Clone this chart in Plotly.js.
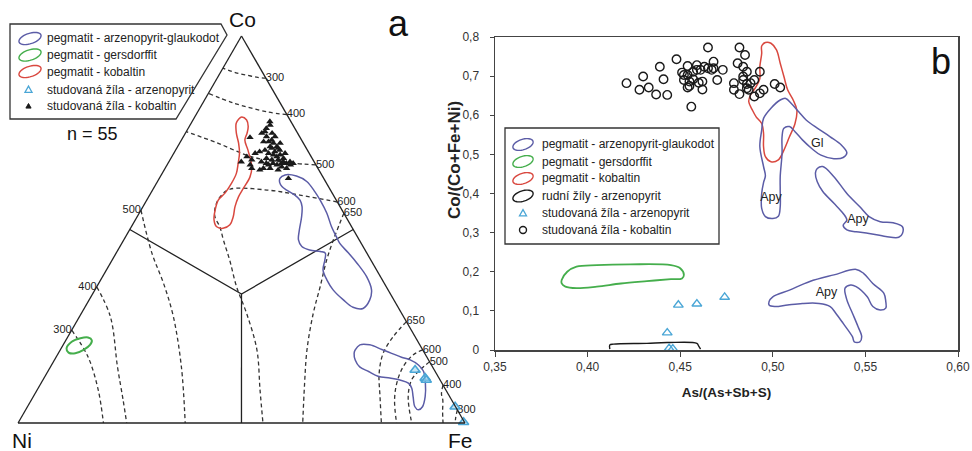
<!DOCTYPE html>
<html><head><meta charset="utf-8">
<script src="https://cdn.plot.ly/plotly-3.0.1.min.js"></script>
<style>body{margin:0;background:#fff}</style>
</head><body>
<div id="chart" style="width:972px;height:451px"></div>
<script>
// ================= DATA =================
// ---- Panel a (ternary, mole fractions Co / Fe, Ni = 1 - Co - Fe) ----
const aKobCo = [0.779,0.738,0.749,0.753,0.740,0.727,0.731,0.723,0.714,0.714,0.727,0.705,0.701,0.693,0.684,0.680,0.680,0.684,0.675,0.658,0.658,0.667,0.671,0.671,0.667,0.671,0.658,0.662,0.671,0.671,0.697,0.680,0.688,0.675,0.667,0.658,0.632,0.701,0.697,0.705,0.693,0.688,0.723,0.740,0.749,0.761,0.770,0.710,0.697,0.710,0.667,0.654,0.654,0.675,0.675];
const aKobFe = [0.174,0.150,0.171,0.176,0.186,0.197,0.202,0.210,0.222,0.207,0.186,0.233,0.224,0.240,0.252,0.242,0.228,0.214,0.207,0.220,0.235,0.246,0.254,0.265,0.276,0.280,0.272,0.259,0.235,0.220,0.182,0.183,0.168,0.162,0.186,0.194,0.289,0.190,0.212,0.200,0.225,0.235,0.225,0.205,0.194,0.175,0.179,0.227,0.249,0.213,0.227,0.214,0.255,0.256,0.271];
const aApyCo = [0.137,0.116,0.111,0.042,0.002];
const aApyFe = [0.820,0.853,0.858,0.957,0.996];

const aKobPolyCo = [0.791,0.783,0.766,0.749,0.731,0.705,0.662,0.636,0.606,0.585,0.559,0.533,0.512,0.503,0.507,0.525,0.550,0.576,0.594,0.619,0.645,0.671,0.697,0.723,0.749,0.774,0.785,0.791];
const aKobPolyFe = [0.105,0.120,0.132,0.138,0.142,0.162,0.192,0.201,0.201,0.201,0.206,0.215,0.218,0.207,0.191,0.176,0.166,0.160,0.166,0.168,0.166,0.157,0.147,0.132,0.114,0.101,0.101,0.105];
const aGlauk1Co = [0.632,0.641,0.638,0.624,0.598,0.576,0.542,0.507,0.481,0.464,0.439,0.413,0.378,0.344,0.318,0.296,0.299,0.318,0.344,0.370,0.395,0.421,0.439,0.443,0.447,0.456,0.473,0.499,0.533,0.559,0.576,0.589,0.602,0.611,0.621,0.632];
const aGlauk1Fe = [0.270,0.277,0.304,0.334,0.365,0.388,0.420,0.448,0.472,0.488,0.520,0.552,0.591,0.619,0.628,0.624,0.600,0.569,0.533,0.506,0.485,0.476,0.468,0.455,0.429,0.407,0.391,0.380,0.368,0.356,0.343,0.325,0.300,0.285,0.275,0.270];
const aGlauk2Co = [0.189,0.202,0.202,0.190,0.180,0.170,0.163,0.150,0.133,0.103,0.068,0.042,0.034,0.042,0.068,0.090,0.103,0.111,0.116,0.121,0.133,0.145,0.163,0.180,0.189];
const aGlauk2Fe = [0.660,0.664,0.686,0.719,0.746,0.773,0.796,0.821,0.841,0.860,0.877,0.884,0.879,0.867,0.850,0.836,0.822,0.799,0.774,0.745,0.718,0.692,0.673,0.662,0.660];
const aGersCo = [0.193,0.210,0.219,0.221,0.214,0.202,0.189,0.180,0.182,0.193];
const aGersFe = [0.012,0.015,0.030,0.046,0.058,0.060,0.052,0.038,0.022,0.012];

// field boundaries (solid Y)
const aFieldCo = [0.5, 1/3, 0.5, null, 1/3, 0];
const aFieldFe = [0, 1/3, 0.5, null, 1/3, 0.5];

// isotherms (°C) – dashed
const isoLabels = ['300','400','500','600','650','500','400','300','650','600','500','400','300'];
const isoCo = [
  [0.891,0.893,0.899,0.905,0.917],
  [0.797,0.804,0.827,0.852],
  [0.667,0.672,0.687,0.724,0.753],
  [0.571,0.589,0.602,0.604,0.585,0.559,0.533,0.507,0.473,0.421,0.352,0.283,0.189,0.085,0],
  [0.542,0.516,0.473,0.421,0.352,0.283,0.189,0.098,0],
  [0.550,0.439,0.361,0.275,0.145,0],
  [0.352,0.275,0.145,0.060,0],
  [0.240,0.171,0.085,0],
  [0.262,0.223,0.180,0.128,0.068,0],
  [0.189,0.176,0.145,0.103,0.059,0],
  [0.158,0.135,0.111,0.068,0],
  [0.098,0.075,0.059,0.030,0],
  [0.034,0.015,0]
];
const isoFe = [
  [0.109,0.090,0.062,0.035,0],
  [0.203,0.155,0.068,0],
  [0.333,0.273,0.182,0.083,0],
  [0.429,0.336,0.256,0.172,0.160,0.162,0.174,0.198,0.223,0.263,0.313,0.370,0.440,0.499,0.548],
  [0.458,0.462,0.469,0.480,0.500,0.519,0.552,0.592,0.637],
  [0,0.080,0.145,0.210,0.293,0.374],
  [0,0.069,0.150,0.205,0.243],
  [0,0.071,0.137,0.191],
  [0.738,0.728,0.727,0.744,0.776,0.813],
  [0.811,0.796,0.789,0.796,0.813,0.847],
  [0.842,0.830,0.825,0.839,0.881],
  [0.902,0.910,0.921,0.935,0.951],
  [0.966,0.972,0.978]
];
const isoLabelSide = ['middle right','middle right','middle right','middle right','middle right','middle left','middle left','middle left','middle right','middle right','middle right','middle right','middle right'];

// ---- Panel b (As/(As+Sb+S) vs Co/(Co+Fe+Ni)) ----
const bKobX = [0.421,0.430,0.428,0.433,0.437,0.443,0.441,0.439,0.448,0.451,0.452,0.454,0.457,0.459,0.461,0.462,0.462,0.456,0.455,0.454,0.459,0.465,0.465,0.468,0.470,0.473,0.479,0.479,0.482,0.485,0.481,0.484,0.482,0.484,0.486,0.486,0.488,0.490,0.493,0.490,0.493,0.495,0.501,0.504,0.467,0.455,0.452,0.460,0.468,0.486,0.484,0.457,0.463,0.454,0.487];
const bKobY = [0.682,0.699,0.665,0.671,0.653,0.652,0.692,0.724,0.743,0.709,0.703,0.726,0.692,0.728,0.716,0.686,0.666,0.622,0.675,0.671,0.716,0.720,0.773,0.737,0.690,0.716,0.682,0.665,0.773,0.754,0.733,0.724,0.654,0.690,0.680,0.669,0.682,0.690,0.711,0.648,0.656,0.665,0.680,0.671,0.716,0.686,0.690,0.683,0.720,0.711,0.699,0.711,0.724,0.703,0.665];
const bApyX = [0.449,0.459,0.474,0.443,0.444,0.446];
const bApyY = [0.115,0.118,0.135,0.044,0.004,0.003];

const bKobPolyX = [0.496,0.499,0.502,0.504,0.506,0.508,0.511,0.513,0.512,0.509,0.506,0.503,0.499,0.496,0.495,0.495,0.494,0.491,0.489,0.487,0.488,0.491,0.493,0.493,0.494,0.494,0.496];
const bKobPolyY = [0.786,0.784,0.767,0.733,0.699,0.665,0.639,0.613,0.579,0.545,0.511,0.486,0.481,0.494,0.520,0.554,0.579,0.596,0.613,0.635,0.652,0.673,0.694,0.724,0.758,0.777,0.786];
const bGlX = [0.507,0.510,0.514,0.518,0.524,0.531,0.537,0.540,0.538,0.533,0.526,0.521,0.516,0.512,0.509,0.506,0.505,0.505,0.504,0.504,0.504,0.503,0.500,0.496,0.494,0.494,0.495,0.496,0.495,0.493,0.494,0.495,0.499,0.504,0.507];
const bGlY = [0.643,0.630,0.609,0.588,0.567,0.545,0.524,0.504,0.492,0.489,0.498,0.515,0.537,0.558,0.571,0.567,0.545,0.503,0.443,0.409,0.366,0.342,0.336,0.341,0.362,0.400,0.428,0.445,0.469,0.520,0.562,0.592,0.618,0.639,0.643];
const bApy2X = [0.524,0.527,0.533,0.540,0.547,0.552,0.558,0.565,0.570,0.570,0.568,0.561,0.552,0.545,0.540,0.538,0.540,0.538,0.533,0.527,0.524,0.523,0.524];
const bApy2Y = [0.464,0.469,0.443,0.400,0.366,0.341,0.328,0.325,0.315,0.298,0.288,0.290,0.298,0.302,0.307,0.319,0.332,0.349,0.375,0.405,0.430,0.452,0.464];
const bApy3X = [0.498,0.500,0.509,0.520,0.533,0.545,0.549,0.554,0.560,0.561,0.561,0.558,0.554,0.551,0.545,0.542,0.539,0.540,0.543,0.546,0.548,0.547,0.544,0.543,0.538,0.534,0.531,0.525,0.516,0.508,0.501,0.498,0.498];
const bApy3Y = [0.124,0.136,0.153,0.175,0.192,0.206,0.196,0.170,0.145,0.124,0.107,0.102,0.111,0.136,0.162,0.166,0.158,0.128,0.094,0.060,0.034,0.021,0.021,0.034,0.068,0.094,0.111,0.119,0.119,0.115,0.111,0.115,0.124];
const bGersX = [0.386,0.389,0.394,0.405,0.423,0.445,0.450,0.452,0.451,0.445,0.432,0.418,0.405,0.394,0.388,0.386,0.386];
const bGersY = [0.179,0.200,0.213,0.217,0.219,0.217,0.209,0.192,0.183,0.181,0.176,0.170,0.162,0.158,0.162,0.170,0.179];
const bRudX = [0.412,0.412,0.414,0.432,0.443,0.459,0.460,0.461];
const bRudY = [0.002,0.013,0.015,0.017,0.019,0.017,0.010,0.002];
const bFieldLabX = [0.524,0.499,0.546,0.529];
const bFieldLabY = [0.528,0.390,0.332,0.145];
const bFieldLabT = ['Gl','Apy','Apy','Apy'];

const legendA = ['pegmatit - arzenopyrit-glaukodot','pegmatit - gersdorffit','pegmatit - kobaltin','studovaná žíla - arzenopyrit','studovaná žíla - kobaltin'];
const legendB = ['pegmatit - arzenopyrit-glaukodot','pegmatit - gersdorffit','pegmatit - kobaltin','rudní žíly - arzenopyrit','studovaná žíla - arzenopyrit','studovaná žíla - kobaltin'];

// ================= STYLE =================
const F = 'Arial, "Liberation Sans", sans-serif';
const C_BLUE = '#5b5ca6', C_RED = '#d9483f', C_GREEN = '#45ae4c', C_CYAN = '#4aa6d6', C_BLK = '#1a1a1a';
const W = 972, H = 451;
const PX = x => x / W, PY = y => 1 - y / H;

function tern(co, fe) {
  return {a: co, c: fe, b: co.map((v, i) => v === null ? null : Math.max(0, +(1 - v - fe[i]).toFixed(5)))};
}
function tLine(co, fe, color, width, dash, shape) {
  const t = tern(co, fe);
  return {type: 'scatterternary', mode: 'lines', a: t.a, b: t.b, c: t.c, hoverinfo: 'skip', cliponaxis: false,
    line: {color: color, width: width, dash: dash || 'solid', shape: shape || 'spline', smoothing: 1}};
}
function cLine(x, y, color, width) {
  return {type: 'scatter', mode: 'lines', x: x, y: y, xaxis: 'x', yaxis: 'y', hoverinfo: 'skip',
    line: {color: color, width: width, shape: 'spline', smoothing: 1}};
}

const traces = [];
// --- panel a ---
traces.push(tLine(aFieldCo, aFieldFe, '#222', 1.3, 'solid', 'linear'));
isoCo.forEach((co, i) => {
  traces.push(tLine(co, isoFe[i], '#333', 1.3, '4px,3px'));
  const t = tern([co[0]], [isoFe[i][0]]);
  traces.push({type: 'scatterternary', mode: 'text', a: t.a, b: t.b, c: t.c, text: [isoLabels[i]],
    textposition: isoLabelSide[i], cliponaxis: false, hoverinfo: 'skip',
    textfont: {family: F, size: 11, color: '#222'}});
});
traces.push(tLine(aKobPolyCo, aKobPolyFe, C_RED, 1.5));
traces.push(tLine(aGlauk1Co, aGlauk1Fe, C_BLUE, 1.5));
traces.push(tLine(aGlauk2Co, aGlauk2Fe, C_BLUE, 1.5));
traces.push(tLine(aGersCo, aGersFe, C_GREEN, 2));
(function(){
  const t = tern(aKobCo, aKobFe);
  traces.push({type: 'scatterternary', mode: 'markers', a: t.a, b: t.b, c: t.c, hoverinfo: 'skip', cliponaxis: false,
    marker: {symbol: 'triangle-up', size: 6.5, color: C_BLK}});
  const u = tern(aApyCo, aApyFe);
  traces.push({type: 'scatterternary', mode: 'markers', a: u.a, b: u.b, c: u.c, hoverinfo: 'skip', cliponaxis: false,
    marker: {symbol: 'triangle-up', size: 9, color: 'rgba(150,205,235,0.55)', line: {color: C_CYAN, width: 1.6}}});
})();

// --- panel b ---
traces.push(cLine(bGersX, bGersY, C_GREEN, 1.8));
traces.push(cLine(bRudX, bRudY, C_BLK, 1.4));
traces.push(cLine(bKobPolyX, bKobPolyY, C_RED, 1.5));
traces.push(cLine(bGlX, bGlY, C_BLUE, 1.5));
traces.push(cLine(bApy2X, bApy2Y, C_BLUE, 1.5));
traces.push(cLine(bApy3X, bApy3Y, C_BLUE, 1.5));
traces.push({type: 'scatter', mode: 'markers', x: bKobX, y: bKobY, hoverinfo: 'skip', cliponaxis: false,
  marker: {symbol: 'circle-open', size: 8.5, color: C_BLK, line: {width: 1.4, color: C_BLK}}});
traces.push({type: 'scatter', mode: 'markers', x: bApyX, y: bApyY, hoverinfo: 'skip',
  marker: {symbol: 'triangle-up-open', size: 8.5, color: C_CYAN, line: {width: 1.4, color: C_CYAN}}});
traces.push({type: 'scatter', mode: 'text', x: bFieldLabX, y: bFieldLabY, text: bFieldLabT, hoverinfo: 'skip',
  textfont: {family: F, size: 12.5, color: '#222'}});

// ================= LEGENDS (shapes + annotations) =================
function ellipsePath(cx, cy, rx, ry, deg) {
  const th = deg * Math.PI / 180; let s = '';
  for (let i = 0; i <= 40; i++) {
    const t = i / 40 * 2 * Math.PI;
    const x = rx * Math.cos(t), y = ry * Math.sin(t);
    const X = cx + x * Math.cos(th) + y * Math.sin(th);
    const Y = cy - x * Math.sin(th) + y * Math.cos(th);
    s += (i ? ' L' : 'M') + PX(X).toFixed(5) + ',' + PY(Y).toFixed(5);
  }
  return s + ' Z';
}
function triPath(cx, cy, r) {
  return 'M' + PX(cx - r) + ',' + PY(cy + r * 0.8) + ' L' + PX(cx + r) + ',' + PY(cy + r * 0.8) + ' L' + PX(cx) + ',' + PY(cy - r * 0.95) + ' Z';
}
const shapes = [], annotations = [];
// legend a
shapes.push({type: 'path', xref: 'paper', yref: 'paper', line: {color: '#333', width: 1.3},
  path: 'M' + PX(10) + ',' + PY(24) + ' L' + PX(221) + ',' + PY(24) + ' L' + PX(227) + ',' + PY(35) + ' L' + PX(176) + ',' + PY(119) + ' L' + PX(10) + ',' + PY(119) + ' Z'});
const rowsA = [38.5, 55, 71.5, 89.5, 106];
[C_BLUE, C_GREEN, C_RED].forEach((c, i) => shapes.push({type: 'path', xref: 'paper', yref: 'paper', line: {color: c, width: 1.4}, path: ellipsePath(30, rowsA[i], 11.5, 5.2, 18)}));
shapes.push({type: 'path', xref: 'paper', yref: 'paper', line: {color: C_CYAN, width: 1.3}, path: triPath(28.5, rowsA[3], 3.5)});
shapes.push({type: 'path', xref: 'paper', yref: 'paper', line: {color: C_BLK, width: 1}, fillcolor: C_BLK, path: triPath(28.5, rowsA[4], 2.6)});
legendA.forEach((t, i) => annotations.push({xref: 'paper', yref: 'paper', x: PX(45), y: PY(rowsA[i]), xanchor: 'left', yanchor: 'middle', showarrow: false, text: t, font: {family: F, size: 12, color: '#222'}}));
// legend b
shapes.push({type: 'rect', xref: 'paper', yref: 'paper', x0: PX(505), x1: PX(719), y0: PY(128), y1: PY(244), line: {color: '#333', width: 1.3}});
const rowsB = [144.5, 161.5, 178.5, 196, 213, 230];
[C_BLUE, C_GREEN, C_RED, C_BLK].forEach((c, i) => shapes.push({type: 'path', xref: 'paper', yref: 'paper', line: {color: c, width: 1.4}, path: ellipsePath(523, rowsB[i], 10.5, 5.2, 18)}));
shapes.push({type: 'path', xref: 'paper', yref: 'paper', line: {color: C_CYAN, width: 1.3}, path: triPath(523, rowsB[4], 3.5)});
shapes.push({type: 'circle', xref: 'paper', yref: 'paper', x0: PX(519.5), x1: PX(526.5), y0: PY(233.5), y1: PY(226.5), line: {color: C_BLK, width: 1.4}});
legendB.forEach((t, i) => annotations.push({xref: 'paper', yref: 'paper', x: PX(540), y: PY(rowsB[i]), xanchor: 'left', yanchor: 'middle', showarrow: false, text: t, font: {family: F, size: 12, color: '#222'}}));

// other labels
const txt = (s, x, y, size, extra) => annotations.push(Object.assign({xref: 'paper', yref: 'paper', x: PX(x), y: PY(y), xanchor: 'center', yanchor: 'middle', showarrow: false, text: s, font: {family: F, size: size, color: '#111'}}, extra || {}));
txt('Co', 242, 20, 21);
txt('Ni', 22, 440, 21);
txt('Fe', 460, 440, 21);
txt('n = 55', 92, 134, 18);
txt('a', 398, 23, 36);
txt('b', 941, 61, 36);
// y-axis title of panel b (placed as in the original, above the axis centre)
txt('<b>Co/(Co+Fe+Ni)</b>', 454, 160, 17, {textangle: -90, font: {family: F, size: 17, color: '#222'}});

const axT = {showticklabels: false, showgrid: false, ticks: '', linecolor: '#222', linewidth: 1.3, title: {text: ''}};
const layout = {
  width: W, height: H, margin: {l: 0, r: 0, t: 0, b: 0}, paper_bgcolor: '#fff', plot_bgcolor: '#fff',
  showlegend: false, separators: ', ', font: {family: F, color: '#222'},
  ternary: {domain: {x: [18 / W, 465 / W], y: [1 - 423 / H, 1 - 36 / H]}, sum: 1, bgcolor: '#fff',
    aaxis: axT, baxis: axT, caxis: axT},
  xaxis: {domain: [495 / W, 958 / W], range: [0.35, 0.60], dtick: 0.05, tick0: 0.35, tickformat: '.2f',
    showline: true, mirror: true, linecolor: '#444', linewidth: 1.5, ticks: 'outside', ticklen: 5, tickcolor: '#444',
    showgrid: false, zeroline: false, tickfont: {family: F, size: 12, color: '#333'},
    title: {text: '<b>As/(As+Sb+S)</b>', font: {family: F, size: 13.5, color: '#222'}, standoff: 14}, automargin: false},
  yaxis: {domain: [1 - 350 / H, 1 - 37 / H], range: [0, 0.8], dtick: 0.1,
    showline: true, mirror: true, linecolor: '#444', linewidth: 1.5, ticks: 'outside', ticklen: 4, tickcolor: '#444',
    ticklabelstandoff: 8, showgrid: false, zeroline: false, tickfont: {family: F, size: 12, color: '#333'},
    title: {text: ''}, automargin: false},
  shapes: shapes, annotations: annotations
};
Plotly.newPlot('chart', traces, layout, {staticPlot: true, displayModeBar: false});
</script>
</body></html>
